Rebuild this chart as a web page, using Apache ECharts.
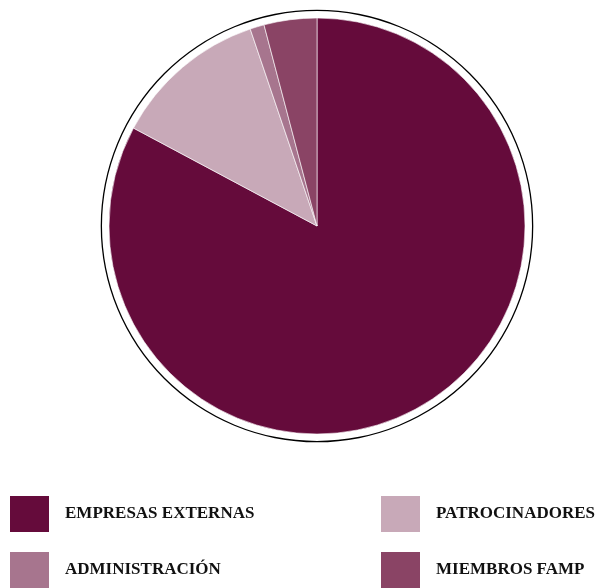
<!DOCTYPE html>
<html lang="es">
<head>
	<meta charset="UTF-8">
	<title>pie</title>
	<style>
		html, body{ margin: 0; padding: 0; background: #fff; }
		#main{ width: 604px; height: 588px; }
	</style>
	<script src="https://cdn.jsdelivr.net/npm/echarts@6/dist/echarts.min.js"></script>
</head>
<body>
	<div id="main"></div>
	<script>
		// categorias y valores (%), en el orden del pastel (sentido horario desde arriba)
		var categories = ['EMPRESAS EXTERNAS', 'PATROCINADORES', 'ADMINISTRACIÓN', 'MIEMBROS FAMP'];
		var values = [82.8, 12.0, 1.1, 4.1];
		var colors = ['#650b3b', '#c8a9b8', '#a7758e', '#8a4465'];

		// posicion de cada entrada de la leyenda (2 x 2)
		var legendSlots = [[8, 494], [379, 494], [8, 550], [379, 550]];

		var myChart = echarts.init(document.getElementById('main'));

		var pieData = categories.map(function(name, i){
			return {name: name, value: values[i], itemStyle: {color: colors[i]}};
		});

		//una leyenda por entrada, para controlar la rejilla
		var legends = categories.map(function(name, i){
			return {
				data: [name],
				left: legendSlots[i][0],
				top: legendSlots[i][1],
				padding: 0,
				itemWidth: 41,
				itemHeight: 38,
				icon: 'rect',
				selectedMode: false,
				textStyle: {
					fontFamily: 'Liberation Serif',
					fontWeight: 'bold',
					fontSize: 17,
					color: '#111',
					padding: [0, 0, 0, 10]
				}
			};
		});

		var option = {
			animation: false,
			legend: legends,
			series: [{
				// anillo exterior
				type: 'pie',
				silent: true,
				center: [317, 226],
				radius: [215, 216.3],
				label: {show: false},
				itemStyle: {color: '#000'},
				data: [{value: 1, name: '_ring'}]
			},{
				type: 'pie',
				center: [317, 226],
				radius: 208,
				startAngle: 90,
				clockwise: true,
				label: {show: false},
				labelLine: {show: false},
				itemStyle: {borderColor: '#fff', borderWidth: 0.6},
				data: pieData
			}]
		};

		myChart.setOption(option);
	</script>
</body>
</html>
